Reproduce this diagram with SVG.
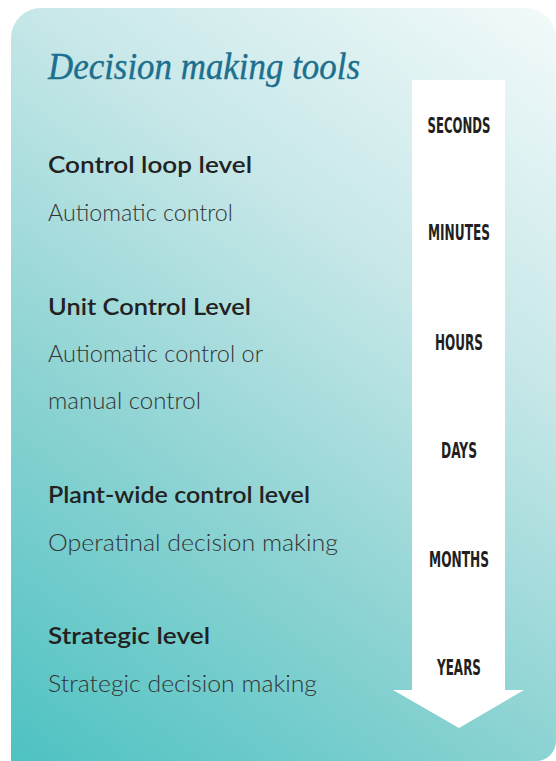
<svg xmlns="http://www.w3.org/2000/svg" width="556" height="761" viewBox="0 0 556 761">
  <defs>
    <linearGradient id="bg" gradientUnits="userSpaceOnUse" x1="11" y1="761" x2="556" y2="8">
      <stop offset="0" stop-color="#4ec2c2"/>
      <stop offset="0.35" stop-color="#8dd3d3"/>
      <stop offset="0.66" stop-color="#c6e7e8"/>
      <stop offset="1" stop-color="#f3fafa"/>
    </linearGradient>
    <style>
      .title { font-family: "Liberation Serif", serif; font-style: italic; font-size: 37px; fill: #1d6f8e; stroke: #1d6f8e; stroke-width: 0.4px; }
      .head { font-family: "Lato", "Liberation Sans", sans-serif; font-weight: 600; font-size: 23px; fill: #222222; }
      .sub { font-family: "Lato", "Liberation Sans", sans-serif; font-weight: 300; font-size: 23px; fill: #333333; }
      .time { font-family: "DejaVu Sans Condensed", "DejaVu Sans", sans-serif; font-weight: bold; font-size: 21px; fill: #231f20; text-anchor: middle; }
    </style>
  </defs>
  <rect width="556" height="761" fill="#ffffff"/>
  <path id="background" d="M11,38 A30,30 0 0 1 41,8 L526,8 A30,30 0 0 1 556,38 L556,741 A20,20 0 0 1 536,761 L11,761 Z" fill="url(#bg)"/>

  <g id="arrow">
    <path d="M412,80 L505,80 L505,690 L524,690 L459,728 L393,690 L412,690 Z" fill="#ffffff"/>
    <text class="time" x="459" y="133" textLength="63" lengthAdjust="spacingAndGlyphs">SECONDS</text>
    <text class="time" x="459" y="240" textLength="62" lengthAdjust="spacingAndGlyphs">MINUTES</text>
    <text class="time" x="459" y="350" textLength="48" lengthAdjust="spacingAndGlyphs">HOURS</text>
    <text class="time" x="459" y="458" textLength="36" lengthAdjust="spacingAndGlyphs">DAYS</text>
    <text class="time" x="459" y="567" textLength="60" lengthAdjust="spacingAndGlyphs">MONTHS</text>
    <text class="time" x="459" y="675" textLength="44" lengthAdjust="spacingAndGlyphs">YEARS</text>
  </g>

  <g id="title">
    <text class="title" x="48" y="79" textLength="312" lengthAdjust="spacingAndGlyphs">Decision making tools</text>
  </g>

  <g id="control-loop-level">
    <text class="head" x="48" y="173" textLength="204" lengthAdjust="spacingAndGlyphs">Control loop level</text>
    <text class="sub" x="48" y="221" textLength="185" lengthAdjust="spacingAndGlyphs">Autiomatic control</text>
  </g>

  <g id="unit-control-level">
    <text class="head" x="48" y="315" textLength="203" lengthAdjust="spacingAndGlyphs">Unit Control Level</text>
    <text class="sub" x="48" y="362" textLength="215" lengthAdjust="spacingAndGlyphs">Autiomatic control or</text>
    <text class="sub" x="48" y="409" textLength="153" lengthAdjust="spacingAndGlyphs">manual control</text>
  </g>

  <g id="plant-wide-control-level">
    <text class="head" x="48" y="503" textLength="262" lengthAdjust="spacingAndGlyphs">Plant-wide control level</text>
    <text class="sub" x="48" y="551" textLength="290" lengthAdjust="spacingAndGlyphs">Operatinal decision making</text>
  </g>

  <g id="strategic-level">
    <text class="head" x="48" y="644" textLength="162" lengthAdjust="spacingAndGlyphs">Strategic level</text>
    <text class="sub" x="48" y="692" textLength="269" lengthAdjust="spacingAndGlyphs">Strategic decision making</text>
  </g>
</svg>
